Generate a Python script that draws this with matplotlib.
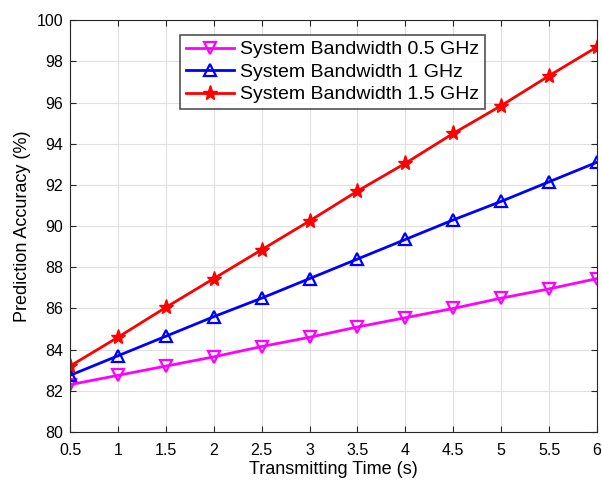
import numpy as np
import matplotlib.pyplot as plt

plt.rcParams['font.family'] = ['Liberation Sans', 'DejaVu Sans']

time_s = [0.5, 1, 1.5, 2, 2.5, 3, 3.5, 4, 4.5, 5, 5.5, 6]
bw_05 = [82.3, 82.75, 83.2, 83.65, 84.15, 84.6, 85.1, 85.55, 86.0, 86.5, 86.95, 87.45]
bw_1 = [82.75, 83.7, 84.65, 85.6, 86.5, 87.45, 88.4, 89.35, 90.3, 91.2, 92.15, 93.1]
bw_15 = [83.2, 84.6, 86.05, 87.45, 88.85, 90.25, 91.7, 93.05, 94.5, 95.85, 97.3, 98.7]

fig = plt.figure(figsize=(6.02, 4.8), dpi=100)
ax = fig.add_axes([0.1163, 0.1, 0.8754, 0.858])

ax.plot(time_s, bw_05, color='#ff00ff', lw=2, marker='v', ms=9, mfc='none', mew=1.6,
        label='System Bandwidth 0.5 GHz')
ax.plot(time_s, bw_1, color='#0000ff', lw=2, marker='^', ms=9, mfc='none', mew=1.6,
        label='System Bandwidth 1 GHz')
ax.plot(time_s, bw_15, color='#ff0000', lw=2, marker='*', ms=11,
        label='System Bandwidth 1.5 GHz')

ax.set_xlim(0.5, 6)
ax.set_ylim(80, 100)
ax.set_xticks(np.arange(0.5, 6.01, 0.5))
ax.set_xticklabels(['0.5', '1', '1.5', '2', '2.5', '3', '3.5', '4', '4.5', '5', '5.5', '6'])
ax.set_yticks(np.arange(80, 101, 2))
ax.tick_params(direction='in', top=True, right=True, labelsize=11.5, length=4, color='#262626')
ax.tick_params(axis='x', pad=8)
ax.tick_params(axis='y', pad=5)
ax.grid(True, color='#e0e0e0', lw=0.8)
ax.set_axisbelow(True)
for s in ax.spines.values():
    s.set_color('#262626')
    s.set_linewidth(0.8)

ax.set_xlabel('Transmitting Time (s)', fontsize=13, labelpad=2)
ax.set_ylabel('Prediction Accuracy (%)', fontsize=13, labelpad=4)

leg = ax.legend(loc='upper left', bbox_to_anchor=(0.299, 0.927), bbox_transform=fig.transFigure,
                fontsize=14, frameon=True, fancybox=False, edgecolor='#262626',
                handlelength=2.5, borderpad=0.3, labelspacing=0.25, handletextpad=0.3,
                borderaxespad=0)
leg.get_frame().set_linewidth(1.2)

fig.savefig('out.png', dpi=100)
